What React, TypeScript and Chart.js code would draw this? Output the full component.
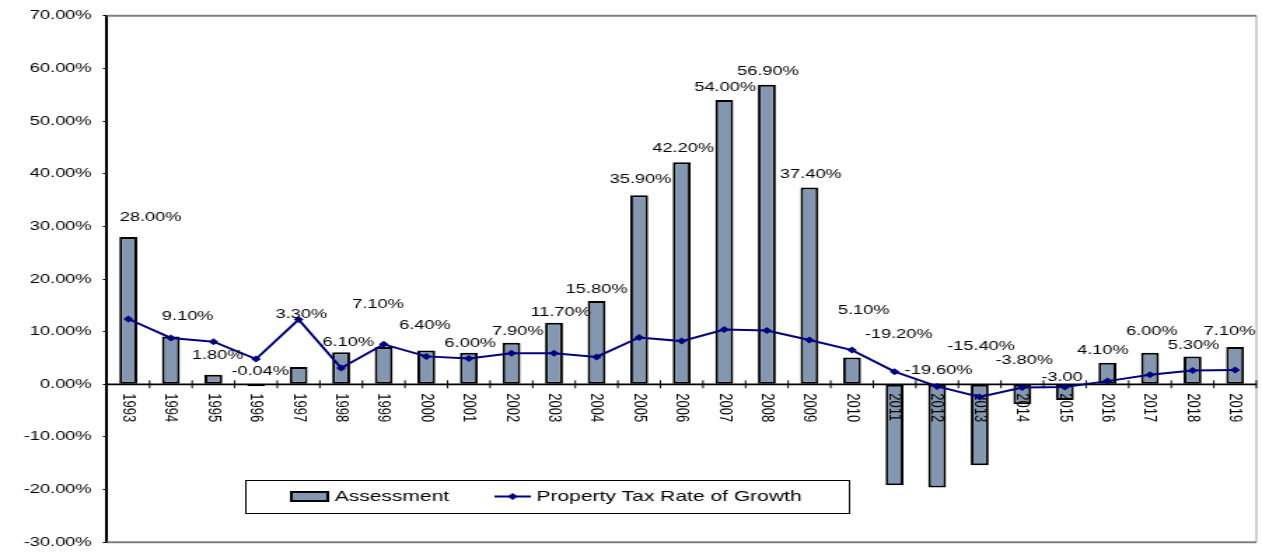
import React, { useEffect, useRef } from 'react';
import { Chart, registerables } from 'chart.js';

Chart.register(...registerables);

// ---- data ----
const years = [
  '1993', '1994', '1995', '1996', '1997', '1998', '1999', '2000', '2001', '2002',
  '2003', '2004', '2005', '2006', '2007', '2008', '2009', '2010', '2011', '2012',
  '2013', '2014', '2015', '2016', '2017', '2018', '2019',
];

// Assessment growth (%), one bar per year
const assessment = [
  28.0, 9.1, 1.8, -0.04, 3.3, 6.1, 7.1, 6.4, 6.0, 7.9,
  11.7, 15.8, 35.9, 42.2, 54.0, 56.9, 37.4, 5.1, -19.2, -19.6,
  -15.4, -3.8, -3.0, 4.1, 6.0, 5.3, 7.1,
];

const assessmentLabels = [
  '28.00%', '9.10%', '1.80%', '-0.04%', '3.30%', '6.10%', '7.10%', '6.40%', '6.00%', '7.90%',
  '11.70%', '15.80%', '35.90%', '42.20%', '54.00%', '56.90%', '37.40%', '5.10%', '-19.20%', '-19.60%',
  '-15.40%', '-3.80%', '-3.00', '4.10%', '6.00%', '5.30%', '7.10%',
];

// Property tax rate of growth (%)
const taxGrowth = [
  12.4, 8.8, 8.1, 4.8, 12.3, 3.1, 7.6, 5.3, 4.9, 5.9,
  5.9, 5.2, 8.9, 8.2, 10.4, 10.2, 8.4, 6.5, 2.4, -0.4,
  -2.4, -0.6, -0.5, 0.6, 1.8, 2.6, 2.7,
];

const yMin = -30;
const yMax = 70;
const yStep = 10;

// ---- layout (drawing surface is 901px wide, stretched horizontally to 1262px) ----
const SURFACE_W = 901;
const SURFACE_H = 558;
const STRETCH = 1262 / SURFACE_W;

// per-label nudges for the value labels (px, relative to the bar end)
const labelShiftX = [16, 12, 3, 3, 2, 5, -4, -1, 1, 4.5, 4.7, 0, 1, 1, 0.6, 0.8, 1, 8.4, 3, 1, 1, 1.4, -2, -3.2, 1.3, 0.8, -4];
const labelLift = [19, 20, 19, 13, 52, 10, 42, 25, 9, 11, 10, 12, 16, 13.5, 12.5, 13, 13, 47, 50, 14, 38, 24, 7, 12, 21, 11, 15];

const FONT = "'Liberation Sans', Arial, Helvetica, sans-serif";
const BAR_FILL = '#8497b0';
const LINE_COLOR = '#000080';

const legendBox = { x: 175, y: 480, w: 431, h: 33 };

function drawDiamond(ctx: CanvasRenderingContext2D, x: number, y: number, r: number) {
  ctx.beginPath();
  ctx.moveTo(x, y - r);
  ctx.lineTo(x + r, y);
  ctx.lineTo(x, y + r);
  ctx.lineTo(x - r, y);
  ctx.closePath();
  ctx.fill();
}

const decorations = {
  id: 'decorations',
  beforeDatasetsDraw(chart: any) {
    const { ctx, chartArea } = chart;
    ctx.save();
    ctx.strokeStyle = '#808080';
    ctx.lineWidth = 2;
    ctx.beginPath();
    ctx.moveTo(chartArea.left, chartArea.top);
    ctx.lineTo(chartArea.right, chartArea.top);
    ctx.moveTo(chartArea.left, chartArea.bottom);
    ctx.lineTo(chartArea.right, chartArea.bottom);
    ctx.stroke();
    ctx.lineWidth = 1;
    ctx.strokeStyle = '#a0a0a0';
    ctx.beginPath();
    ctx.moveTo(chartArea.right, chartArea.top);
    ctx.lineTo(chartArea.right, chartArea.bottom);
    ctx.stroke();
    ctx.restore();
  },
  afterDatasetDraw(chart: any, args: any) {
    if (args.index !== 0) return;
    // category axis crossing at zero, drawn over the bars but under the line
    const { ctx, chartArea } = chart;
    const xs = chart.scales.x;
    const y0 = chart.scales.y.getPixelForValue(0);
    ctx.save();
    ctx.strokeStyle = '#000';
    ctx.lineWidth = 1.7;
    ctx.beginPath();
    ctx.moveTo(chartArea.left, y0);
    ctx.lineTo(chartArea.right, y0);
    ctx.stroke();
    ctx.lineWidth = 1;
    ctx.beginPath();
    const step = (xs.getPixelForValue(1) - xs.getPixelForValue(0));
    for (let i = 1; i <= years.length; i++) {
      const bx = xs.getPixelForValue(i) - step / 2;
      ctx.moveTo(bx, y0 - 4);
      ctx.lineTo(bx, y0 + 4);
    }
    ctx.stroke();
    ctx.fillStyle = '#000';
    ctx.font = `13px ${FONT}`;
    ctx.textAlign = 'left';
    ctx.textBaseline = 'middle';
    years.forEach((yr, i) => {
      const x = xs.getPixelForValue(i);
      ctx.save();
      ctx.translate(x, y0 + 9);
      ctx.rotate(Math.PI / 2);
      ctx.fillText(yr, 0, 0);
      ctx.restore();
    });
    ctx.restore();
  },
  afterDatasetsDraw(chart: any) {
    const { ctx } = chart;
    const xs = chart.scales.x;
    const ys = chart.scales.y;
    ctx.save();
    // value labels
    ctx.fillStyle = '#000';
    ctx.font = `13px ${FONT}`;
    ctx.textAlign = 'center';
    ctx.textBaseline = 'middle';
    assessment.forEach((v, i) => {
      const x = xs.getPixelForValue(i) + labelShiftX[i];
      const y = ys.getPixelForValue(Math.max(v, 0)) - labelLift[i];
      ctx.fillText(assessmentLabels[i], x, y);
    });

    // legend
    const lb = legendBox;
    ctx.fillStyle = '#fff';
    ctx.fillRect(lb.x, lb.y, lb.w, lb.h);
    ctx.strokeStyle = '#000';
    ctx.lineWidth = 1;
    ctx.strokeRect(lb.x + 0.5, lb.y + 0.5, lb.w, lb.h);
    const cy = lb.y + lb.h / 2;
    ctx.fillStyle = BAR_FILL;
    ctx.fillRect(208, cy - 4.5, 26, 9);
    ctx.lineWidth = 2;
    ctx.strokeRect(208, cy - 4.5, 26, 9);
    ctx.fillStyle = '#000';
    ctx.font = `15px ${FONT}`;
    ctx.textAlign = 'left';
    ctx.fillText('Assessment', 239, cy + 0.5);
    ctx.strokeStyle = LINE_COLOR;
    ctx.lineWidth = 2;
    ctx.beginPath();
    ctx.moveTo(353, cy);
    ctx.lineTo(379, cy);
    ctx.stroke();
    ctx.fillStyle = LINE_COLOR;
    drawDiamond(ctx, 366, cy, 3.5);
    ctx.fillStyle = '#000';
    ctx.fillText('Property Tax Rate of Growth', 383, cy + 0.5);
    ctx.restore();
  },
};

export default function App() {
  const canvasRef = useRef<HTMLCanvasElement | null>(null);

  useEffect(() => {
    document.body.style.margin = '0';
    const canvas = canvasRef.current;
    if (!canvas) return;
    const chart = new Chart(canvas, {
      type: 'bar',
      data: {
        labels: years,
        datasets: [
          {
            type: 'bar',
            label: 'Assessment',
            data: assessment,
            backgroundColor: BAR_FILL,
            borderColor: '#000',
            borderWidth: 2,
            borderSkipped: false,
            barPercentage: 0.42,
            categoryPercentage: 1,
            minBarLength: 2,
            order: 2,
          },
          {
            type: 'line',
            label: 'Property Tax Rate of Growth',
            data: taxGrowth,
            borderColor: LINE_COLOR,
            backgroundColor: LINE_COLOR,
            borderWidth: 2,
            pointStyle: 'rectRot',
            pointRadius: 3.5,
            pointBorderWidth: 0,
            pointBackgroundColor: LINE_COLOR,
            tension: 0,
            fill: false,
            order: 1,
          },
        ],
      },
      options: {
        responsive: false,
        animation: false,
        devicePixelRatio: 1,
        layout: { padding: { top: 15, bottom: 10, right: 0.5, left: 0 } },
        plugins: {
          legend: { display: false },
          tooltip: { enabled: false },
          title: { display: false },
        },
        scales: {
          x: {
            type: 'category',
            display: false,
            offset: true,
            grid: { display: false },
          },
          y: {
            min: yMin,
            max: yMax,
            afterFit: (scale: any) => {
              scale.width = 76.4;
            },
            ticks: {
              stepSize: yStep,
              color: '#000',
              padding: 8,
              font: { family: FONT, size: 13 },
              callback: (v: any) => Number(v).toFixed(2) + '%',
            },
            grid: {
              display: true,
              drawOnChartArea: false,
              drawTicks: true,
              tickLength: 3,
              color: '#000',
              lineWidth: 1,
            },
            border: { display: true, color: '#000', width: 2 },
          },
        },
      },
      plugins: [decorations],
    } as any);
    return () => chart.destroy();
  }, []);

  return (
    <div style={{ width: 1262, height: 558, overflow: 'hidden', background: '#fff' }}>
      <div
        style={{
          width: SURFACE_W,
          height: SURFACE_H,
          transform: `scaleX(${STRETCH})`,
          transformOrigin: '0 0',
        }}
      >
        <canvas ref={canvasRef} width={SURFACE_W} height={SURFACE_H} style={{ display: 'block' }} />
      </div>
    </div>
  );
}
